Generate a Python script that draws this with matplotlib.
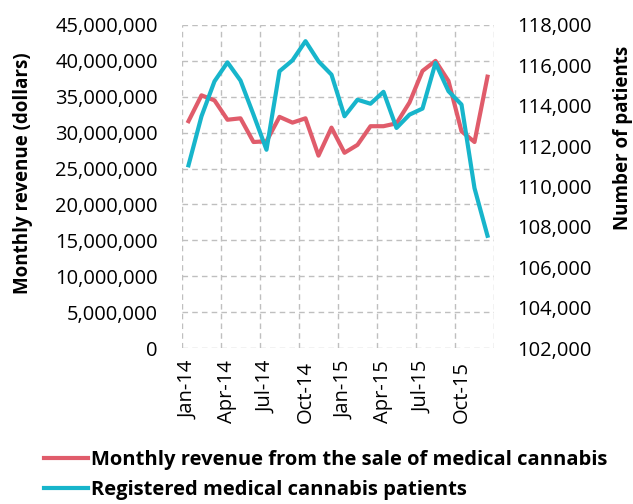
import matplotlib
matplotlib.use('Agg')
import matplotlib.pyplot as plt
from matplotlib.ticker import FuncFormatter, FixedLocator
from matplotlib.lines import Line2D

# --- Dados ---
months = ['Jan-14', 'Feb-14', 'Mar-14', 'Apr-14', 'May-14', 'Jun-14',
          'Jul-14', 'Aug-14', 'Sep-14', 'Oct-14', 'Nov-14', 'Dec-14',
          'Jan-15', 'Feb-15', 'Mar-15', 'Apr-15', 'May-15', 'Jun-15',
          'Jul-15', 'Aug-15', 'Sep-15', 'Oct-15', 'Nov-15', 'Dec-15']
revenue = [31.6e6, 35.2e6, 34.5e6, 31.8e6, 32.0e6, 28.7e6,
           28.8e6, 32.2e6, 31.4e6, 32.0e6, 26.8e6, 30.7e6,
           27.2e6, 28.3e6, 30.9e6, 30.9e6, 31.3e6, 34.2e6,
           38.6e6, 40.0e6, 37.2e6, 30.2e6, 28.7e6, 37.8e6]
patients = [111050, 113480, 115210, 116150, 115250, 113560,
            111820, 115710, 116250, 117200, 116200, 115540,
            113480, 114300, 114100, 114690, 112900, 113560,
            113860, 116120, 114720, 114060, 109920, 107560]
tick_labels = ['Jan-14', 'Apr-14', 'Jul-14', 'Oct-14',
               'Jan-15', 'Apr-15', 'Jul-15', 'Oct-15']

RED = '#E05C6B'
BLUE = '#17B5CB'
FONT = 'Open Sans'

plt.rcParams['font.family'] = FONT
plt.rcParams['font.size'] = 14.5

fig = plt.figure(figsize=(6.33, 5.04), dpi=100)
ax = fig.add_axes([0.2875, 0.3095, 0.4929, 0.6409])
ax2 = ax.twinx()

x = [i + 0.5 for i in range(len(months))]
ax.plot(x, revenue, color=RED, lw=3, solid_joinstyle='round', zorder=3)
ax2.plot(x, patients, color=BLUE, lw=3, solid_joinstyle='round', zorder=3)

# eixo esquerdo
ax.set_xlim(0, 24)
ax.set_ylim(0, 45e6)
ax.set_yticks([i * 5e6 for i in range(10)])
ax.yaxis.set_major_formatter(FuncFormatter(lambda v, p: f'{v:,.0f}'))
ax.set_ylabel('Monthly revenue (dollars)', fontweight='bold', fontsize=13.5)
ax.yaxis.set_label_coords(-0.478, 0.542)

# eixo x: rótulos no meio do mês, grade nas bordas dos trimestres
label_pos = [months.index(t) + 0.5 for t in tick_labels]
ax.xaxis.set_major_locator(FixedLocator(label_pos))
ax.set_xticklabels(tick_labels, rotation=90)
ax.xaxis.set_minor_locator(FixedLocator(list(range(0, 25, 3))))
ax.tick_params(axis='x', which='both', length=0, pad=9)
ax.tick_params(axis='y', length=0, pad=17.5)
ax.grid(True, which='minor', axis='x', color='#BFBFBF', ls=(0, (4, 3)), lw=1)
ax.grid(True, which='major', axis='y', color='#BFBFBF', ls=(0, (4, 3)), lw=1)

# eixo direito
ax2.set_ylim(102000, 118000)
ax2.set_yticks(list(range(102000, 118001, 2000)))
ax2.yaxis.set_major_formatter(FuncFormatter(lambda v, p: f'{v:,.0f}'))
ax2.tick_params(axis='y', length=0, pad=16.5)
ax2.set_ylabel('Number of patients', fontweight='bold', fontsize=13.5)
ax2.yaxis.set_label_coords(1.381, 0.652)

for a in (ax, ax2):
    for s in a.spines.values():
        s.set_visible(False)

handles = [Line2D([], [], color=RED, lw=3),
           Line2D([], [], color=BLUE, lw=3)]
fig.legend(handles,
           ['Monthly revenue from the sale of medical cannabis',
            'Registered medical cannabis patients'],
           loc='lower left', bbox_to_anchor=(0.047, -0.02), frameon=False,
           handlelength=2.2, handletextpad=0.15, labelspacing=0.5,
           borderpad=0.2, prop={'family': FONT, 'weight': 'bold', 'size': 14.5})

fig.savefig('out.png', dpi=100)
